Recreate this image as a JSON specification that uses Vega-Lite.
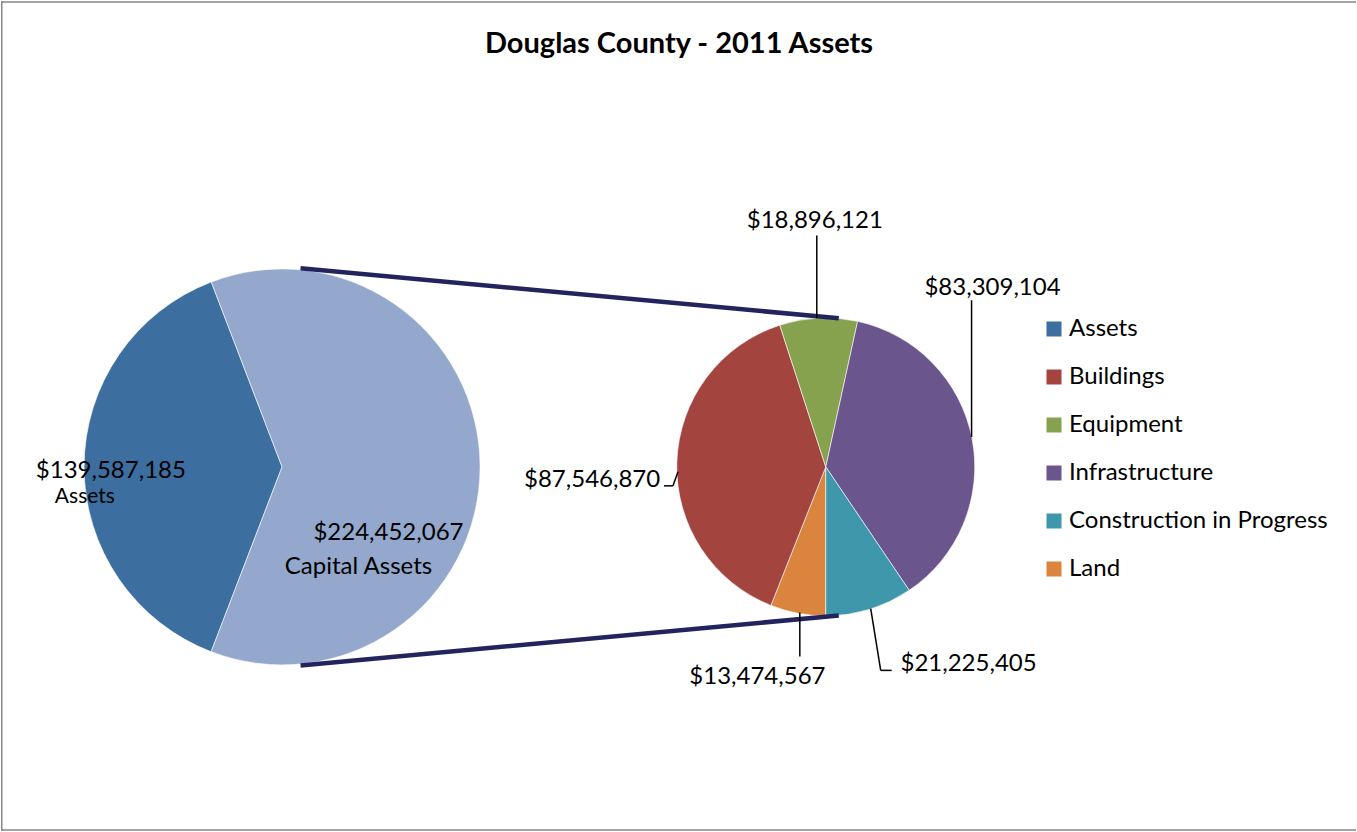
{
  "$schema": "https://vega.github.io/schema/vega-lite/v6.json",
  "width": 1357,
  "height": 832,
  "padding": 0,
  "autosize": {"type": "fit", "contains": "padding"},
  "background": "#ffffff",
  "config": {
    "view": {"stroke": null},
    "font": "Lato",
    "text": {"font": "Lato", "color": "#000000"}
  },
  "datasets": {
    "summary": [
      {"category": "Assets", "value": 139587185},
      {"category": "Capital Assets", "value": 224452067}
    ],
    "detail": [
      {"category": "Land", "value": 13474567},
      {"category": "Buildings", "value": 87546870},
      {"category": "Equipment", "value": 18896121},
      {"category": "Infrastructure", "value": 83309104},
      {"category": "Construction in Progress", "value": 21225405}
    ],
    "heading": [
      {"title": "Douglas County - 2011 Assets"}
    ]
  },
  "resolve": {"scale": {"theta": "independent"}},
  "layer": [
    {
      "data": {"name": "summary"},
      "transform": [{"window": [{"op": "row_number", "as": "idx"}]}],
      "mark": {"type": "arc", "radius": 198, "stroke": "#ffffff", "strokeWidth": 0.6},
      "encoding": {
        "x": {"datum": 281.5, "type": "quantitative", "scale": {"domain": [0, 1357], "nice": false, "zero": false}, "axis": null},
        "y": {"datum": 467, "type": "quantitative", "scale": {"domain": [0, 832], "reverse": true, "nice": false, "zero": false}, "axis": null},
        "theta": {"field": "value", "type": "quantitative", "stack": true, "scale": {"range": [3.5081, 9.7913]}},
        "order": {"field": "idx", "type": "quantitative"},
        "detail": {"field": "category", "type": "nominal"},
        "color": {"condition": {"test": "datum.category === 'Assets'", "value": "#3C6E9F"}, "value": "#93A8CC"}
      }
    },
    {
      "data": {"name": "detail"},
      "transform": [{"window": [{"op": "row_number", "as": "idx"}]}],
      "mark": {"type": "arc", "radius": 149, "stroke": "#ffffff", "strokeWidth": 0.6},
      "encoding": {
        "x": {"datum": 826, "type": "quantitative", "scale": {"domain": [0, 1357], "nice": false, "zero": false}, "axis": null},
        "y": {"datum": 467, "type": "quantitative", "scale": {"domain": [0, 832], "reverse": true, "nice": false, "zero": false}, "axis": null},
        "theta": {"field": "value", "type": "quantitative", "stack": true, "scale": {"range": [3.14159, 9.42478]}},
        "order": {"field": "idx", "type": "quantitative"},
        "color": {
          "field": "category",
          "type": "nominal",
          "scale": {
            "domain": ["Assets", "Buildings", "Equipment", "Infrastructure", "Construction in Progress", "Land"],
            "range": ["#3C6E9F", "#A3443F", "#87A24E", "#6B558D", "#3F97AB", "#DB843D"]
          },
          "legend": {
            "title": null,
            "orient": "none",
            "legendX": 1041,
            "legendY": 316,
            "padding": 0,
            "symbolType": "square",
            "symbolSize": 225,
            "symbolStrokeWidth": 0,
            "labelFont": "Lato",
            "labelFontSize": 24,
            "labelColor": "#000000",
            "labelOffset": 3,
            "rowPadding": 24,
            "labelLimit": 400
          }
        }
      }
    },
    {
      "data": {"name": "heading"},
      "mark": {"type": "text", "fontSize": 29, "fontWeight": "bold", "align": "center", "baseline": "alphabetic"},
      "encoding": {
        "x": {"datum": 679, "type": "quantitative"},
        "y": {"datum": 52, "type": "quantitative"},
        "text": {"field": "title", "type": "nominal"}
      }
    },
    {
      "data": {"name": "summary"},
      "transform": [{"filter": "datum.category === 'Assets'"}],
      "mark": {"type": "text", "fontSize": 24, "align": "center", "baseline": "alphabetic"},
      "encoding": {
        "x": {"datum": 110, "type": "quantitative"},
        "y": {"datum": 478, "type": "quantitative"},
        "text": {"field": "value", "type": "quantitative", "format": "$,"}
      }
    },
    {
      "data": {"name": "summary"},
      "transform": [{"filter": "datum.category === 'Assets'"}],
      "mark": {"type": "text", "fontSize": 21, "align": "center", "baseline": "alphabetic"},
      "encoding": {
        "x": {"datum": 84, "type": "quantitative"},
        "y": {"datum": 503, "type": "quantitative"},
        "text": {"field": "category", "type": "nominal"}
      }
    },
    {
      "data": {"name": "summary"},
      "transform": [{"filter": "datum.category === 'Capital Assets'"}],
      "mark": {"type": "text", "fontSize": 24, "align": "center", "baseline": "alphabetic"},
      "encoding": {
        "x": {"datum": 388, "type": "quantitative"},
        "y": {"datum": 540, "type": "quantitative"},
        "text": {"field": "value", "type": "quantitative", "format": "$,"}
      }
    },
    {
      "data": {"name": "summary"},
      "transform": [{"filter": "datum.category === 'Capital Assets'"}],
      "mark": {"type": "text", "fontSize": 24, "align": "center", "baseline": "alphabetic"},
      "encoding": {
        "x": {"datum": 358, "type": "quantitative"},
        "y": {"datum": 574, "type": "quantitative"},
        "text": {"field": "category", "type": "nominal"}
      }
    },
    {
      "data": {"name": "detail"},
      "transform": [{"filter": "datum.category === 'Equipment'"}],
      "mark": {"type": "text", "fontSize": 24, "align": "center", "baseline": "alphabetic"},
      "encoding": {
        "x": {"datum": 815, "type": "quantitative"},
        "y": {"datum": 228, "type": "quantitative"},
        "text": {"field": "value", "type": "quantitative", "format": "$,"}
      }
    },
    {
      "data": {"name": "detail"},
      "transform": [{"filter": "datum.category === 'Infrastructure'"}],
      "mark": {"type": "text", "fontSize": 24, "align": "center", "baseline": "alphabetic"},
      "encoding": {
        "x": {"datum": 993, "type": "quantitative"},
        "y": {"datum": 295, "type": "quantitative"},
        "text": {"field": "value", "type": "quantitative", "format": "$,"}
      }
    },
    {
      "data": {"name": "detail"},
      "transform": [{"filter": "datum.category === 'Buildings'"}],
      "mark": {"type": "text", "fontSize": 24, "align": "center", "baseline": "alphabetic"},
      "encoding": {
        "x": {"datum": 592, "type": "quantitative"},
        "y": {"datum": 487, "type": "quantitative"},
        "text": {"field": "value", "type": "quantitative", "format": "$,"}
      }
    },
    {
      "data": {"name": "detail"},
      "transform": [{"filter": "datum.category === 'Land'"}],
      "mark": {"type": "text", "fontSize": 24, "align": "center", "baseline": "alphabetic"},
      "encoding": {
        "x": {"datum": 757.5, "type": "quantitative"},
        "y": {"datum": 685, "type": "quantitative"},
        "text": {"field": "value", "type": "quantitative", "format": "$,"}
      }
    },
    {
      "data": {"name": "detail"},
      "transform": [{"filter": "datum.category === 'Construction in Progress'"}],
      "mark": {"type": "text", "fontSize": 24, "align": "center", "baseline": "alphabetic"},
      "encoding": {
        "x": {"datum": 969, "type": "quantitative"},
        "y": {"datum": 672, "type": "quantitative"},
        "text": {"field": "value", "type": "quantitative", "format": "$,"}
      }
    },
    {
      "data": {"name": "summary"},
      "transform": [{"filter": "datum.category === 'Capital Assets'"}],
      "mark": {"type": "rule", "color": "#23235E", "strokeWidth": 4.5},
      "encoding": {
        "x": {"datum": 300, "type": "quantitative"},
        "y": {"datum": 268, "type": "quantitative"},
        "x2": {"datum": 839},
        "y2": {"datum": 318}
      }
    },
    {
      "data": {"name": "summary"},
      "transform": [{"filter": "datum.category === 'Capital Assets'"}],
      "mark": {"type": "rule", "color": "#23235E", "strokeWidth": 4.5},
      "encoding": {
        "x": {"datum": 300, "type": "quantitative"},
        "y": {"datum": 666, "type": "quantitative"},
        "x2": {"datum": 839},
        "y2": {"datum": 616}
      }
    },
    {
      "data": {"name": "detail"},
      "transform": [{"filter": "datum.category === 'Equipment'"}],
      "mark": {"type": "rule", "color": "#000000", "strokeWidth": 1.5},
      "encoding": {
        "x": {"datum": 817, "type": "quantitative"},
        "y": {"datum": 235, "type": "quantitative"},
        "x2": {"datum": 817},
        "y2": {"datum": 318}
      }
    },
    {
      "data": {"name": "detail"},
      "transform": [{"filter": "datum.category === 'Infrastructure'"}],
      "mark": {"type": "rule", "color": "#000000", "strokeWidth": 1.5},
      "encoding": {
        "x": {"datum": 972, "type": "quantitative"},
        "y": {"datum": 300, "type": "quantitative"},
        "x2": {"datum": 972},
        "y2": {"datum": 437}
      }
    },
    {
      "data": {"name": "detail"},
      "transform": [{"filter": "datum.category === 'Buildings'"}],
      "mark": {"type": "rule", "color": "#000000", "strokeWidth": 1.5},
      "encoding": {
        "x": {"datum": 664, "type": "quantitative"},
        "y": {"datum": 486, "type": "quantitative"},
        "x2": {"datum": 673},
        "y2": {"datum": 486}
      }
    },
    {
      "data": {"name": "detail"},
      "transform": [{"filter": "datum.category === 'Buildings'"}],
      "mark": {"type": "rule", "color": "#000000", "strokeWidth": 1.5},
      "encoding": {
        "x": {"datum": 673, "type": "quantitative"},
        "y": {"datum": 486, "type": "quantitative"},
        "x2": {"datum": 678},
        "y2": {"datum": 472}
      }
    },
    {
      "data": {"name": "detail"},
      "transform": [{"filter": "datum.category === 'Land'"}],
      "mark": {"type": "rule", "color": "#000000", "strokeWidth": 1.5},
      "encoding": {
        "x": {"datum": 800, "type": "quantitative"},
        "y": {"datum": 613, "type": "quantitative"},
        "x2": {"datum": 800},
        "y2": {"datum": 657}
      }
    },
    {
      "data": {"name": "detail"},
      "transform": [{"filter": "datum.category === 'Construction in Progress'"}],
      "mark": {"type": "rule", "color": "#000000", "strokeWidth": 1.5},
      "encoding": {
        "x": {"datum": 871, "type": "quantitative"},
        "y": {"datum": 609, "type": "quantitative"},
        "x2": {"datum": 881},
        "y2": {"datum": 671}
      }
    },
    {
      "data": {"name": "detail"},
      "transform": [{"filter": "datum.category === 'Construction in Progress'"}],
      "mark": {"type": "rule", "color": "#000000", "strokeWidth": 1.5},
      "encoding": {
        "x": {"datum": 881, "type": "quantitative"},
        "y": {"datum": 671, "type": "quantitative"},
        "x2": {"datum": 892},
        "y2": {"datum": 671}
      }
    },
    {
      "data": {"name": "heading"},
      "mark": {"type": "rule", "color": "#868686", "strokeWidth": 1.5},
      "encoding": {
        "x": {"datum": 0, "type": "quantitative"},
        "y": {"datum": 1, "type": "quantitative"},
        "x2": {"datum": 1357},
        "y2": {"datum": 1}
      }
    },
    {
      "data": {"name": "heading"},
      "mark": {"type": "rule", "color": "#868686", "strokeWidth": 1.5},
      "encoding": {
        "x": {"datum": 0.75, "type": "quantitative"},
        "y": {"datum": 0, "type": "quantitative"},
        "x2": {"datum": 0.75},
        "y2": {"datum": 832}
      }
    },
    {
      "data": {"name": "heading"},
      "mark": {"type": "rule", "color": "#868686", "strokeWidth": 1.5},
      "encoding": {
        "x": {"datum": 0, "type": "quantitative"},
        "y": {"datum": 831, "type": "quantitative"},
        "x2": {"datum": 1357},
        "y2": {"datum": 831}
      }
    }
  ]
}
